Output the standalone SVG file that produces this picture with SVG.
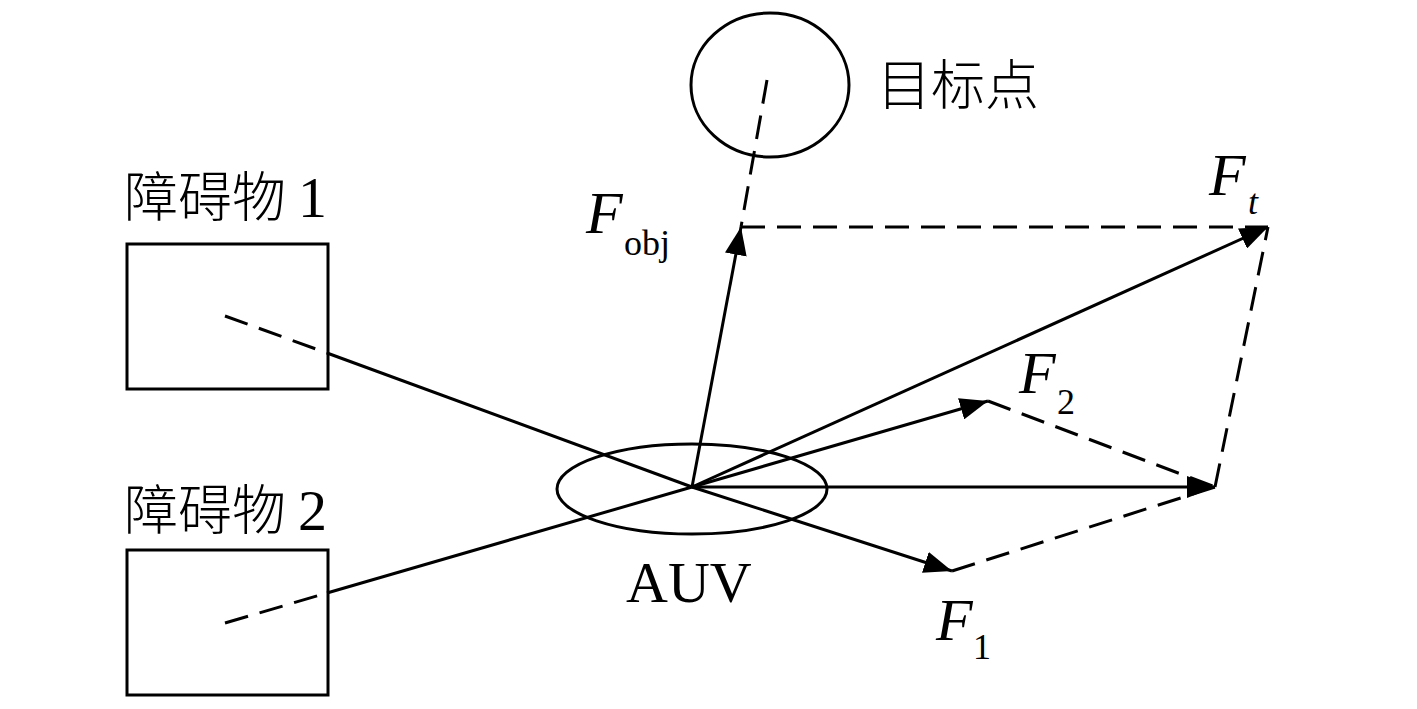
<svg xmlns="http://www.w3.org/2000/svg" width="1417" height="709" viewBox="0 0 1417 709">
<style>
.s{fill:none;stroke:#000;stroke-width:3}
.d{fill:none;stroke:#000;stroke-width:3;stroke-dasharray:24 12}
.cn{font-family:"Noto Sans CJK SC",sans-serif;font-size:54px;font-weight:300;fill:#000}
.lat{font-family:"Liberation Serif",serif;fill:#000}
.it{font-family:"Liberation Serif",serif;font-style:italic;font-size:60px;fill:#000}
.sub{font-family:"Liberation Serif",serif;font-size:36px;fill:#000}
</style>
<defs>
<marker id="ah" markerUnits="userSpaceOnUse" markerWidth="30" markerHeight="22" refX="28" refY="11" orient="auto">
<path d="M0,0 L28,11 L0,22 Z" fill="#000"/>
</marker>
</defs>
<rect width="1417" height="709" fill="#fff"/>
<g id="obstacle1">
<rect x="127" y="244" width="201" height="145" class="s"/>
<text x="124" y="217" class="cn">障碍物 <tspan class="lat" font-size="58" font-weight="400">1</tspan></text>
</g>
<g id="obstacle2">
<rect x="127" y="550" width="201" height="145" class="s"/>
<text x="124" y="530" class="cn">障碍物 <tspan class="lat" font-size="58" font-weight="400">2</tspan></text>
</g>
<g id="target">
<ellipse cx="770" cy="85" rx="79" ry="72" class="s"/>
<text x="877" y="105" class="cn" font-size="55">目标点</text>
</g>
<g id="auv">
<ellipse cx="692" cy="489" rx="135" ry="45" class="s"/>
<text x="626" y="602" class="lat" font-size="58">AUV</text>
</g>
<g id="connectors">
<line x1="225" y1="316" x2="327" y2="353" class="d" stroke-dasharray="20 12"/>
<line x1="327" y1="353" x2="692" y2="487" class="s"/>
<line x1="225" y1="623" x2="327" y2="593" class="d" stroke-dasharray="20 12"/>
<line x1="327" y1="593" x2="692" y2="487" class="s"/>
<line x1="767" y1="80" x2="741" y2="227" class="d" stroke-dasharray="22 12"/>
<line x1="692" y1="487" x2="741" y2="227" class="s" marker-end="url(#ah)"/>
<line x1="741" y1="227" x2="1268" y2="227" class="d"/>
<line x1="692" y1="487" x2="1268" y2="227" class="s" marker-end="url(#ah)"/>
<line x1="692" y1="487" x2="988" y2="401" class="s" marker-end="url(#ah)"/>
<line x1="692" y1="487" x2="1215" y2="487" class="s" marker-end="url(#ah)"/>
<line x1="692" y1="487" x2="952" y2="571" class="s" marker-end="url(#ah)"/>
<line x1="988" y1="401" x2="1215" y2="487" class="d"/>
<line x1="952" y1="571" x2="1215" y2="487" class="d"/>
<line x1="1215" y1="487" x2="1268" y2="227" class="d"/>
</g>
<g id="labels">
<text x="586" y="233" class="it">F</text><text x="624" y="255" class="sub">obj</text>
<text x="1209" y="195" class="it">F</text><text x="1248" y="214" class="sub" font-style="italic">t</text>
<text x="1019" y="393" class="it">F</text><text x="1057" y="414" class="sub">2</text>
<text x="936" y="640" class="it">F</text><text x="973" y="659" class="sub">1</text>
</g>
</svg>
